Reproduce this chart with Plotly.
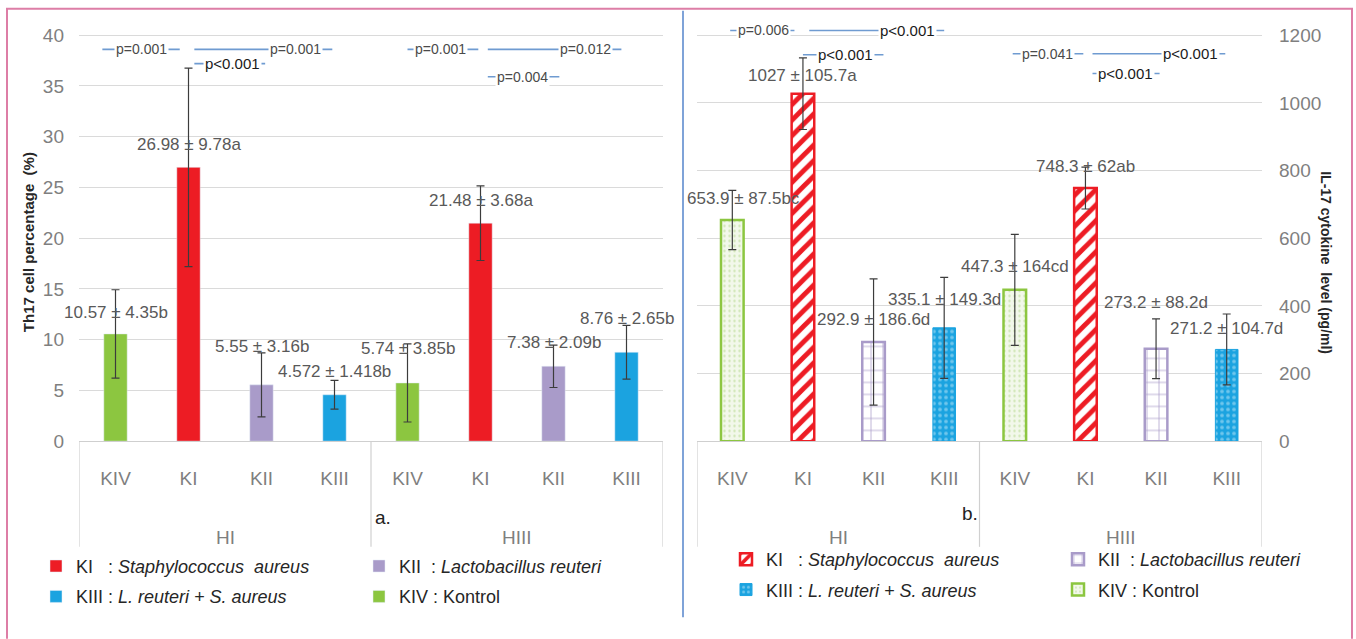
import plotly.graph_objects as go

W, H = 1356, 639

# ---- data -------------------------------------------------------------
groups = ["HI", "HIII"]
kinds = ["KIV", "KI", "KII", "KIII"]

# one value per bar, ordered HI (KIV, KI, KII, KIII) then HIII (same order)
th17_mean = [10.57, 26.98, 5.55, 4.572, 5.74, 21.48, 7.38, 8.76]
th17_sd = [4.35, 9.78, 3.16, 1.418, 3.85, 3.68, 2.09, 2.65]
th17_letter = ["b", "a", "b", "b", "b", "a", "b", "b"]

il17_mean = [653.9, 1027, 292.9, 335.1, 447.3, 748.3, 273.2, 271.2]
il17_sd = [87.5, 105.7, 186.6, 149.3, 164, 62, 88.2, 104.7]
il17_letter = ["bc", "a", "d", "d", "cd", "ab", "d", "d"]

# pairwise comparisons: (bar index, bar index, p text)
th17_tests = [(0, 1, "p=0.001"), (1, 3, "p=0.001"), (1, 2, "p<0.001"),
              (4, 5, "p=0.001"), (5, 7, "p=0.012"), (5, 6, "p=0.004")]
il17_tests = [(0, 1, "p=0.006"), (1, 3, "p<0.001"), (1, 2, "p<0.001"),
              (4, 5, "p=0.041"), (5, 7, "p<0.001"), (5, 6, "p<0.001")]

kind_names = {
    "KI": "KI   : <i>Staphylococcus  aureus</i>",
    "KII": "KII  : <i>Lactobacillus reuteri</i>",
    "KIII": "KIII : <i>L. reuteri + S. aureus</i>",
    "KIV": "KIV : Kontrol",
}

# ---- styling ----------------------------------------------------------
FONT = "Liberation Sans, Arial, sans-serif"
GRAY = "#7f7f7f"
DARK = "#262626"
RED, PURPLE, BLUE, GREEN = "#ED1C24", "#A99BC9", "#1BA3E0", "#8CC640"

solid_marker = {
    "KI": dict(color=RED),
    "KII": dict(color=PURPLE),
    "KIII": dict(color=BLUE),
    "KIV": dict(color=GREEN),
}
pattern_marker = {
    "KI": dict(color="white", line=dict(color=RED, width=2.5),
               pattern=dict(shape="/", fgcolor=RED, bgcolor="white",
                            size=11, solidity=0.45, fillmode="replace")),
    "KII": dict(color="white", line=dict(color=PURPLE, width=2.5),
                pattern=dict(shape="+", fgcolor=PURPLE, bgcolor="white",
                             size=12, solidity=0.12, fillmode="replace")),
    "KIII": dict(color=BLUE, line=dict(color=BLUE, width=1),
                 pattern=dict(shape=".", fgcolor="#c6e9f8", size=6,
                              solidity=0.3, fillmode="overlay")),
    "KIV": dict(color="#f2f8ea", line=dict(color=GREEN, width=2.5),
                pattern=dict(shape=".", fgcolor="#a9d27c", size=5,
                             solidity=0.18, fillmode="overlay")),
}

# label offsets above bar top (px) and bracket geometry
th17_label_dy = [21, 23, 38, 23, 34, 23, 24, 34]
il17_label_dy = [21, 18, 23, 28, 23, 22, 46, 21]
il17_label_dx = [11, 0, 0, 0, 0, 0, 0, 0]
# (x start, x end, y, text x) in axis units
th17_brackets = [(-0.18, 0.88, 38.6, 0.35), (1.08, 2.97, 38.6, 2.46),
                 (1.08, 2.05, 37.2, 1.60), (4.0, 4.97, 38.6, 4.45),
                 (5.1, 6.93, 38.6, 6.44), (5.1, 6.08, 35.9, 5.57)]
il17_brackets = [(-0.03, 0.88, 1214, 0.44), (1.09, 3.0, 1214, 2.48),
                 (1.0, 2.14, 1142, 1.60), (3.97, 4.97, 1145, 4.46),
                 (5.1, 6.98, 1145, 6.49), (5.1, 6.05, 1087, 5.57)]


def px(x):
    return x / W


def py(y):
    return 1 - y / H


categories = [(g, k) for g in groups for k in kinds]
xpos = list(range(len(categories)))
tick_text = [k for _, k in categories]

fig = go.Figure()

panels = [
    dict(mean=th17_mean, sd=th17_sd, marker=solid_marker, xa="x", ya="y",
         legends={"KI": "legend", "KIII": "legend", "KII": "legend2", "KIV": "legend2"}),
    dict(mean=il17_mean, sd=il17_sd, marker=pattern_marker, xa="x2", ya="y2",
         legends={"KI": "legend3", "KIII": "legend3", "KII": "legend4", "KIV": "legend4"}),
]

for p in panels:
    for kind in ["KI", "KIII", "KII", "KIV"]:
        idx = [i for i, (_, k) in enumerate(categories) if k == kind]
        fig.add_trace(go.Bar(
            x=[xpos[i] for i in idx],
            y=[p["mean"][i] for i in idx],
            error_y=dict(type="data", array=[p["sd"][i] for i in idx],
                         color="#3c3c3c", thickness=1.2, width=4),
            marker=p["marker"][kind],
            width=0.32,
            name=kind_names[kind],
            legend=p["legends"][kind],
            legendgroup=p["xa"] + kind,
            xaxis=p["xa"], yaxis=p["ya"],
            hoverinfo="skip",
        ))

annotations = []
shapes = []

# value labels
for mean, sd, letter, dy, dx, xa, ya in [
    (th17_mean, th17_sd, th17_letter, th17_label_dy, [0] * 8, "x", "y"),
    (il17_mean, il17_sd, il17_letter, il17_label_dy, il17_label_dx, "x2", "y2"),
]:
    for i in xpos:
        annotations.append(dict(
            x=xpos[i], y=mean[i], xref=xa, yref=ya,
            text=f"{mean[i]:g} ± {sd[i]:g}{letter[i]}",
            showarrow=False, yshift=dy[i], xshift=dx[i],
            font=dict(family=FONT, size=17, color="#595959"),
        ))

# significance brackets
for tests, brackets, xa, ya in [(th17_tests, th17_brackets, "x", "y"),
                                (il17_tests, il17_brackets, "x2", "y2")]:
    for (_, _, ptxt), (x0, x1, yb, xt) in zip(tests, brackets):
        shapes.append(dict(type="line", xref=xa, yref=ya, x0=x0, x1=x1,
                           y0=yb, y1=yb, line=dict(color="#6f9bd1", width=1.6)))
        strong = ptxt.startswith("p<")
        annotations.append(dict(
            x=xt, y=yb, xref=xa, yref=ya, text=ptxt, showarrow=False,
            bgcolor="white", borderpad=1,
            font=dict(family=FONT, size=15 if strong else 14,
                      color="#1a1a1a" if strong else "#4a4a4a"),
        ))

# group labels and dividers under each category axis
for xa, tag, tag_pos in [("x", "a.", (373, 526)), ("x2", "b.", (980, 522))]:
    for gi, g in enumerate(groups):
        members = [i for i, (gg, _) in enumerate(categories) if gg == g]
        annotations.append(dict(
            x=sum(members) / len(members), y=py(546), xref=xa, yref="paper",
            yanchor="middle", text=g, showarrow=False,
            font=dict(family=FONT, size=19, color=GRAY)))
    for b in range(len(groups) + 1):
        xb = -0.5 + b * len(kinds)
        shapes.append(dict(type="line", xref=xa, yref="paper", x0=xb, x1=xb,
                           y0=py(448), y1=py(556),
                           line=dict(color="#d0d0d0", width=1.2)))
    annotations.append(dict(
        x=px(tag_pos[0]), y=py(tag_pos[1]), xref="paper", yref="paper",
        yanchor="middle", text=tag, showarrow=False,
        font=dict(family=FONT, size=19, color="#222222")))

# axis titles
annotations.append(dict(
    x=px(18), y=py(245), xref="paper", yref="paper", textangle=-90,
    yanchor="middle", text="<b>Th17 cell percentage  (%)</b>", showarrow=False,
    font=dict(family=FONT, size=15, color=DARK)))
annotations.append(dict(
    x=px(1336), y=py(265), xref="paper", yref="paper", textangle=90,
    yanchor="middle", text="<b>IL-17 cytokine  level (pg/ml)</b>", showarrow=False,
    font=dict(family=FONT, size=14, color=DARK)))

# outer frame and panel separator
shapes.append(dict(type="path", xref="paper", yref="paper",
                   path=f"M {px(7)} {py(650)} L {px(7)} {py(6)} L {px(1352)} {py(6)} L {px(1352)} {py(650)}",
                   line=dict(color="#dd7ea6", width=2)))
shapes.append(dict(type="line", xref="paper", yref="paper",
                   x0=px(683), x1=px(683), y0=py(8), y1=py(628),
                   line=dict(color="#7fa3d8", width=2)))

ydom = [py(448), py(26)]
tickfont = dict(family=FONT, size=19, color=GRAY)
xcommon = dict(range=[-0.5, 7.5], tickvals=xpos, ticktext=tick_text,
               showgrid=False, zeroline=False, showline=True,
               linecolor="#cfcfcf", linewidth=1.2, ticks="",
               tickfont=tickfont, ticklabelstandoff=20, fixedrange=True)

legend_common = dict(orientation="v", xanchor="left", yanchor="top",
                     bgcolor="rgba(0,0,0,0)", tracegroupgap=4,
                     traceorder="grouped",
                     font=dict(family=FONT, size=18, color=DARK))

fig.update_layout(
    width=W, height=H,
    margin=dict(l=0, r=0, t=0, b=0),
    paper_bgcolor="white", plot_bgcolor="white",
    barmode="overlay",
    xaxis=dict(domain=[px(79), px(663)], anchor="y", **xcommon),
    xaxis2=dict(domain=[px(697), px(1262)], anchor="y2", **xcommon),
    yaxis=dict(domain=ydom, anchor="x", range=[0, 40 * 1220 / 1200], dtick=5,
               gridcolor="#dadada", gridwidth=1.2, zeroline=False,
               tickfont=tickfont, ticklabelstandoff=14, fixedrange=True),
    yaxis2=dict(domain=ydom, anchor="x2", side="right", range=[0, 1220],
                dtick=200, gridcolor="#dadada", gridwidth=1.2, zeroline=False,
                tickfont=tickfont, ticklabelstandoff=16, fixedrange=True),
    legend=dict(x=px(36), y=py(557), **legend_common),
    legend2=dict(x=px(359), y=py(557), **legend_common),
    legend3=dict(x=px(726), y=py(550), **legend_common),
    legend4=dict(x=px(1058), y=py(550), **legend_common),
    annotations=annotations,
    shapes=shapes,
    showlegend=True,
)

fig.write_html("out.html")
